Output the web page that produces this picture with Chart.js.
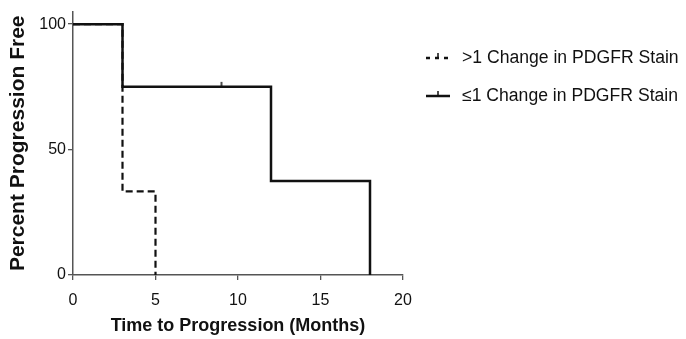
<!DOCTYPE html>
<html>
<head>
<meta charset="utf-8">
<script src="https://cdn.jsdelivr.net/npm/chart.js@4"></script>
<style>
  html, body { margin: 0; padding: 0; background: #fff; }
  #wrap { width: 686px; height: 339px; position: relative; }
</style>
</head>
<body>
<div id="wrap"><canvas id="km" width="686" height="339"></canvas></div>
<script>
// datos de la curva
const solidTimes = [0, 3, 12, 18];
const solidSurv = [100, 75, 37.5, 0];
const dashTimes = [0, 3, 5];
const dashSurv = [100, 33.3, 0];
const censorTimes = [9];
const censorSurv = [75];
const xTicks = [0, 5, 10, 15, 20];
const yTicks = [0, 50, 100];
const seriesLabels = [">1 Change in PDGFR Stain", "\u22641 Change in PDGFR Stain"];

const FONT = "'Liberation Sans', Arial, sans-serif";

const toPts = (xs, ys) => xs.map((x, i) => ({ x: x, y: ys[i] }));

// marca de censura: solo hacia arriba
const censorMark = document.createElement("canvas");
censorMark.width = 4;
censorMark.height = 12;
(function () {
  const c = censorMark.getContext("2d");
  c.strokeStyle = "#111";
  c.lineWidth = 1.5;
  c.beginPath();
  c.moveTo(2, 1);
  c.lineTo(2, 6);
  c.stroke();
})();

// leyenda a mano
const legendPlugin = {
  id: "kmLegend",
  afterDraw(chart) {
    const ctx = chart.ctx;
    const rows = [
      { y: 58, dash: [4, 5], label: seriesLabels[0] },
      { y: 96, dash: [], label: seriesLabels[1] },
    ];
    ctx.save();
    rows.forEach((r) => {
      ctx.strokeStyle = "#111";
      ctx.lineWidth = 2.5;
      ctx.setLineDash(r.dash);
      ctx.beginPath();
      ctx.moveTo(426, r.y);
      ctx.lineTo(450, r.y);
      ctx.stroke();
      ctx.setLineDash([]);
      ctx.lineWidth = 1.5;
      ctx.beginPath();
      ctx.moveTo(438, r.y);
      ctx.lineTo(438, r.y - 5);
      ctx.stroke();
      ctx.fillStyle = "#111";
      ctx.font = "17.6px " + FONT;
      ctx.textBaseline = "middle";
      ctx.textAlign = "left";
      ctx.fillText(r.label, 462, r.y);
    });
    ctx.restore();
  },
};

new Chart(document.getElementById("km"), {
  type: "scatter",
  data: {
    datasets: [
      {
        label: seriesLabels[0],
        data: toPts(dashTimes, dashSurv),
        showLine: true,
        stepped: "before",
        borderColor: "#111",
        borderWidth: 2.2,
        borderDash: [7, 4],
        pointRadius: 0,
        clip: false,
      },
      {
        label: seriesLabels[1],
        data: toPts(solidTimes, solidSurv),
        showLine: true,
        stepped: "before",
        borderColor: "#111",
        borderWidth: 2.5,
        pointRadius: 0,
        clip: false,
      },
      {
        label: "censor",
        data: toPts(censorTimes, censorSurv),
        showLine: false,
        pointStyle: censorMark,
        pointRadius: 6,
        clip: false,
      },
    ],
  },
  options: {
    responsive: false,
    animation: false,
    devicePixelRatio: 1,
    layout: { padding: { left: 0, right: 283, top: 10, bottom: 0 } },
    plugins: {
      legend: { display: false },
      tooltip: { enabled: false },
    },
    scales: {
      x: {
        type: "linear",
        min: 0,
        max: 20,
        afterBuildTicks: (s) => { s.ticks = xTicks.map((v) => ({ value: v })); },
        afterFit: (s) => { s.height = 64; },
        grid: { drawOnChartArea: false, drawTicks: true, tickLength: 5, color: "#555", lineWidth: 1.3 },
        border: { color: "#555", width: 1.5 },
        ticks: { color: "#111", font: { family: FONT, size: 16 }, padding: 11, maxRotation: 0 },
        title: {
          display: true,
          text: "Time to Progression (Months)",
          color: "#111",
          font: { family: FONT, size: 18, weight: "bold" },
          padding: { top: 0, bottom: 2 },
        },
      },
      y: {
        min: 0,
        max: 105,
        afterBuildTicks: (s) => { s.ticks = yTicks.map((v) => ({ value: v })); },
        afterFit: (s) => { s.width = 73; },
        grid: { drawOnChartArea: false, drawTicks: true, tickLength: 5, color: "#555", lineWidth: 1.3 },
        border: { color: "#555", width: 1.5 },
        ticks: { color: "#111", font: { family: FONT, size: 16 }, padding: 2 },
        title: {
          display: true,
          text: "Percent Progression Free",
          color: "#111",
          font: { family: FONT, size: 21, weight: "bold" },
          padding: { top: 6, bottom: 0 },
        },
      },
    },
  },
  plugins: [legendPlugin],
});
</script>
</body>
</html>
